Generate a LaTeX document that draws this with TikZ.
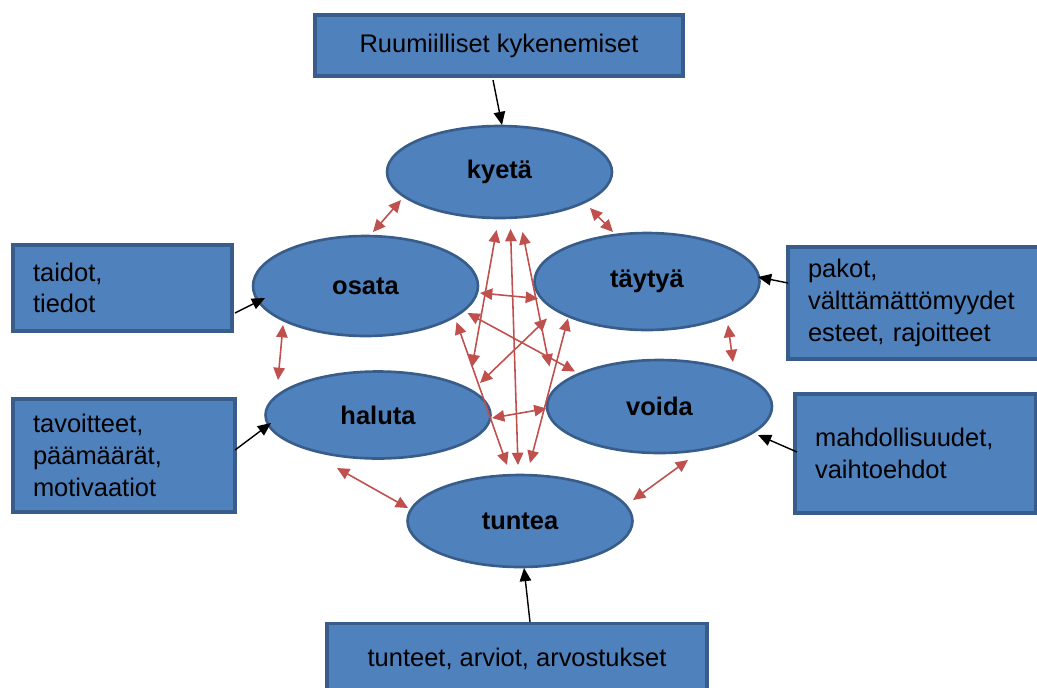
\documentclass[tikz,border=0pt]{standalone}
\usepackage{fontspec}
\setmainfont{Liberation Sans}
\definecolor{boxblue}{RGB}{79,129,189}
\definecolor{edgeblue}{RGB}{56,93,138}
\definecolor{linkred}{RGB}{192,80,77}
\usetikzlibrary{shapes, arrows.meta, positioning, calc}

\begin{document}
\begin{tikzpicture}[x=0.02cm, y=-0.02cm,
  font=\fontsize{14.5}{18}\selectfont,
  infobox/.style={draw=edgeblue, fill=boxblue, line width=1.8pt, inner xsep=0.4cm, align=left},
  verb/.style={ellipse, draw=edgeblue, fill=boxblue, line width=1.5pt, inner sep=0pt, minimum width=4.5cm, font=\fontsize{14.5}{18}\selectfont\bfseries},
  inflow/.style={-{Triangle[length=7.5pt,width=6.5pt]}, line width=0.8pt, black},
  link/.style={{Triangle[length=7pt,width=6.5pt]}-{Triangle[length=7pt,width=6.5pt]}, line width=0.9pt, linkred}]

  \useasboundingbox (0,0) rectangle (1037,687);

  \node[infobox, align=center, minimum width=7.36cm, minimum height=1.22cm] (kyky) at (499,45.5) {Ruumiilliset kykenemiset};
  \node[infobox, text width=3.58cm, minimum height=1.72cm] (taito) at (122.5,288) {taidot,\\tiedot};
  \node[infobox, text width=3.64cm, minimum height=2.26cm] (tavoite) at (124,455.5) {tavoitteet,\\päämäärät,\\motivaatiot};
  \node[infobox, text width=4.34cm, minimum height=2.24cm] (pakko) at (916.5,303) {pakot,\\välttämättömyydet\\esteet, rajoitteet};
  \node[infobox, text width=4.02cm, minimum height=2.38cm] (mahdollisuus) at (915.5,453.5) {mahdollisuudet,\\vaihtoehdot};
  \node[infobox, align=center, minimum width=7.6cm, minimum height=1.42cm] (tunne) at (517,659) {tunteet, arviot, arvostukset};

  \node[verb, minimum height=1.84cm] (kyeta) at (499.5,172) {kyetä};
  \node[verb, minimum height=2cm] (osata) at (365.5,286) {osata};
  \node[verb, minimum height=1.94cm] (taytya) at (647,281.5) {täytyä};
  \node[verb, minimum height=1.74cm] (haluta) at (378,415) {haluta};
  \node[verb, minimum height=1.86cm] (voida) at (659.5,406.5) {voida};
  \node[verb, minimum height=1.84cm] (tuntea) at (520,521) {tuntea};

  \draw[inflow] ($(kyky)+(-6,34.5)$) -- ($(kyeta)+(2.5,-47)$);
  \draw[inflow] ($(taito)+(112.5,25)$) -- ($(osata)+(-100.5,12)$);
  \draw[inflow] ($(tavoite)+(111,-5.5)$) -- ($(haluta)+(-107,8)$);
  \draw[inflow] ($(pakko)+(-128.5,-20)$) -- ($(taytya)+(111,-4.5)$);
  \draw[inflow] ($(mahdollisuus)+(-118.5,-1.5)$) -- ($(voida)+(98.5,28.5)$);
  \draw[inflow] ($(tunne)+(13,-37)$) -- ($(tuntea)+(4,47)$);

  \draw[link] ($(kyeta)+(-98.5,28)$) -- ($(osata)+(7.5,-54)$);
  \draw[link] ($(kyeta)+(90.5,36)$) -- ($(taytya)+(-34,-49.5)$);
  \draw[link] ($(osata)+(-82.5,39)$) -- ($(haluta)+(-100,-35)$);
  \draw[link] ($(taytya)+(81,43.5)$) -- ($(voida)+(73.5,-44.5)$);
  \draw[link] ($(haluta)+(-41,53)$) -- ($(tuntea)+(-112,-13)$);
  \draw[link] ($(voida)+(28.5,53.5)$) -- ($(tuntea)+(113,-21)$);

  \draw[link] ($(kyeta)+(-3,58)$) -- ($(haluta)+(94,-48)$);
  \draw[link] ($(kyeta)+(11,57)$) -- ($(tuntea)+(-2,-56)$);
  \draw[link] ($(kyeta)+(23,60)$) -- ($(voida)+(-110,-40)$);
  \draw[link] ($(osata)+(114.5,7)$) -- ($(taytya)+(-109,17)$);
  \draw[link] ($(osata)+(102,27)$) -- ($(voida)+(-84.5,-35)$);
  \draw[link] ($(osata)+(91,36)$) -- ($(tuntea)+(-13,-56)$);
  \draw[link] ($(taytya)+(-100,37)$) -- ($(haluta)+(102,-32)$);
  \draw[link] ($(taytya)+(-79,37)$) -- ($(tuntea)+(10,-58)$);
  \draw[link] ($(haluta)+(114,3)$) -- ($(voida)+(-113,2)$);
\end{tikzpicture}
\end{document}
